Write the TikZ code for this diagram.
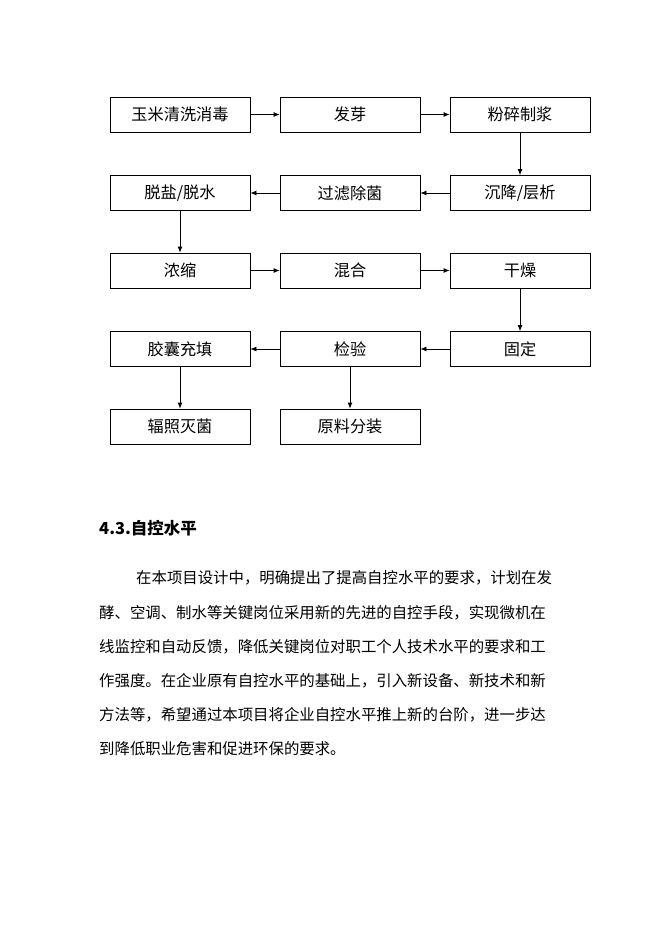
\documentclass[tikz,border=0pt]{standalone}
\usepackage{fontspec}
\setmainfont{Noto Sans CJK SC}
\usetikzlibrary{arrows.meta}

\begin{document}
\begin{tikzpicture}[x=1pt, y=-1pt,
	box/.style={draw, line width=0.8pt, minimum width=140pt, minimum height=35pt, inner sep=0pt, font=\fontsize{16.2}{16.2}\selectfont},
	flow/.style={line width=0.8pt, -{Latex[length=6pt, width=5pt]}},
	para/.style={anchor=west, inner sep=0pt, font=\fontsize{15.4}{15.4}\selectfont}]
	\useasboundingbox (0, 0) rectangle (662, 936);

	\node[box] (wash) at (180, 114.5) {玉米清洗消毒};
	\node[box] (sprout) at (350, 114.5) {发芽};
	\node[box] (pulp) at (520, 114.5) {粉碎制浆};

	\node[box] (desalt) at (180, 193) {脱盐/脱水};
	\node[box] (filter) at (350, 193) {过滤除菌};
	\node[box] (settle) at (520, 193) {沉降/层析};

	\node[box] (conc) at (180, 270.5) {浓缩};
	\node[box] (mix) at (350, 270.5) {混合};
	\node[box] (dry) at (520, 270.5) {干燥};

	\node[box] (fill) at (180, 349) {胶囊充填};
	\node[box] (check) at (350, 349) {检验};
	\node[box] (fix) at (520, 349) {固定};

	\node[box] (steril) at (180, 426.5) {辐照灭菌};
	\node[box] (pack) at (350, 426.5) {原料分装};

	\draw[flow] (wash) -- (sprout);
	\draw[flow] (sprout) -- (pulp);
	\draw[flow] (pulp) -- (settle);
	\draw[flow] (settle) -- (filter);
	\draw[flow] (filter) -- (desalt);
	\draw[flow] (desalt) -- (conc);
	\draw[flow] (conc) -- (mix);
	\draw[flow] (mix) -- (dry);
	\draw[flow] (dry) -- (fix);
	\draw[flow] (fix) -- (check);
	\draw[flow] (check) -- (fill);
	\draw[flow] (fill) -- (steril);
	\draw[flow] (check) -- (pack);

	\node[anchor=west, inner sep=0pt, font=\fontsize{16.5}{16.5}\selectfont\bfseries] (head) at (99, 528) {4.3.自控水平};

	\node[para] (line1) at (136, 578) {在本项目设计中，明确提出了提高自控水平的要求，计划在发};
	\node[para] (line2) at (99, 613) {酵、空调、制水等关键岗位采用新的先进的自控手段，实现微机在};
	\node[para] (line3) at (99, 647) {线监控和自动反馈，降低关键岗位对职工个人技术水平的要求和工};
	\node[para] (line4) at (99, 681) {作强度。在企业原有自控水平的基础上，引入新设备、新技术和新};
	\node[para] (line5) at (99, 715) {方法等，希望通过本项目将企业自控水平推上新的台阶，进一步达};
	\node[para] (line6) at (99, 749) {到降低职业危害和促进环保的要求。};

\end{tikzpicture}
\end{document}
